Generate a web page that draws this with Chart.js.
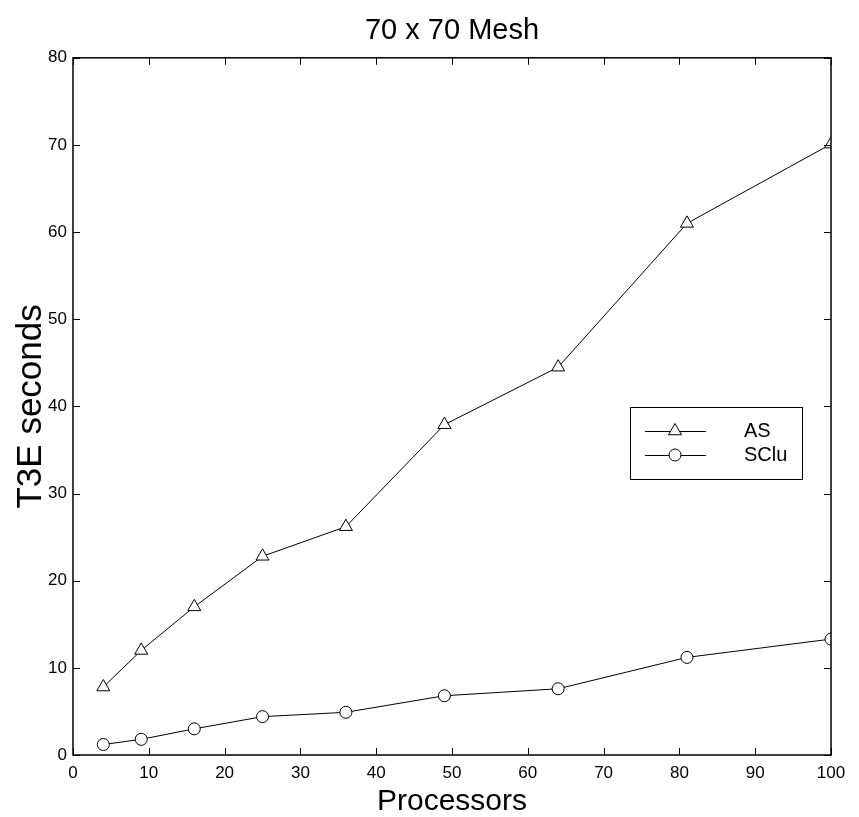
<!DOCTYPE html>
<html>
<head>
<meta charset="utf-8">
<script src="https://cdn.jsdelivr.net/npm/chart.js@4.4.1/dist/chart.umd.min.js"></script>
<style>
  html, body { margin: 0; padding: 0; background: #fff; }
  #wrap { width: 859px; height: 817px; }
</style>
</head>
<body>
<div id="wrap"><canvas id="meshChart" width="859" height="817"></canvas></div>
<script>
// data
const processors = [4, 9, 16, 25, 36, 49, 64, 81, 100];
const asTimes = [7.8, 12.0, 17.0, 22.8, 26.2, 37.9, 44.5, 61.0, 70.1];
const scluTimes = [1.2, 1.8, 3.0, 4.4, 4.9, 6.8, 7.6, 11.2, 13.3];
const xTicks = [0, 10, 20, 30, 40, 50, 60, 70, 80, 90, 100];
const yTicks = [0, 10, 20, 30, 40, 50, 60, 70, 80];

const FONT = "'Liberation Sans', Arial, Helvetica, sans-serif";

function toPoints(xs, ys) {
  return xs.map((x, i) => ({ x: x, y: ys[i] }));
}

// box around the plot + inward ticks on all four sides
const framePlugin = {
  id: "frame",
  afterDatasetsDraw(chart) {
    const { ctx, chartArea: a, scales } = chart;
    const len = 7;
    ctx.save();
    ctx.strokeStyle = "#000";
    ctx.lineWidth = 1;
    xTicks.forEach(v => {
      const px = Math.round(scales.x.getPixelForValue(v)) + 0.5;
      ctx.beginPath();
      ctx.moveTo(px, a.bottom); ctx.lineTo(px, a.bottom - len);
      ctx.moveTo(px, a.top); ctx.lineTo(px, a.top + len);
      ctx.stroke();
    });
    yTicks.forEach(v => {
      const py = Math.round(scales.y.getPixelForValue(v)) + 0.5;
      ctx.beginPath();
      ctx.moveTo(a.left, py); ctx.lineTo(a.left + len, py);
      ctx.moveTo(a.right, py); ctx.lineTo(a.right - len, py);
      ctx.stroke();
    });
    ctx.lineWidth = 1.5;
    ctx.strokeRect(a.left, a.top, a.right - a.left, a.bottom - a.top);
    ctx.restore();
  }
};

// legend box inside the plot, like the original
const boxLegend = {
  id: "boxLegend",
  afterDraw(chart) {
    const ctx = chart.ctx;
    const x0 = 630, y0 = 407, w = 172, h = 72;
    ctx.save();
    ctx.fillStyle = "#fff";
    ctx.fillRect(x0, y0, w, h);
    ctx.strokeStyle = "#000";
    ctx.lineWidth = 1;
    ctx.strokeRect(x0 + 0.5, y0 + 0.5, w, h);
    chart.data.datasets.forEach((ds, i) => {
      const yy = 431 + i * 24;
      ctx.strokeStyle = "#000";
      ctx.lineWidth = 1;
      ctx.beginPath();
      ctx.moveTo(645, yy + 0.5);
      ctx.lineTo(706, yy + 0.5);
      ctx.stroke();
      ctx.fillStyle = "#fff";
      Chart.helpers.drawPoint(ctx, {
        pointStyle: ds.pointStyle, radius: ds.pointRadius, rotation: 0, borderWidth: 1
      }, 675, yy);
      ctx.fillStyle = "#000";
      ctx.font = "20px " + FONT;
      ctx.textBaseline = "middle";
      ctx.textAlign = "left";
      ctx.fillText(ds.label, 744, yy);
    });
    ctx.restore();
  }
};

const ctx = document.getElementById("meshChart").getContext("2d");
new Chart(ctx, {
  type: "line",
  data: {
    datasets: [
      {
        label: "AS",
        data: toPoints(processors, asTimes),
        borderColor: "#000",
        borderWidth: 1,
        pointStyle: "triangle",
        pointRadius: 7.5,
        pointBorderColor: "#000",
        pointBackgroundColor: "#fff",
        pointBorderWidth: 1,
        tension: 0,
        clip: 0
      },
      {
        label: "SClu",
        data: toPoints(processors, scluTimes),
        borderColor: "#000",
        borderWidth: 1,
        pointStyle: "circle",
        pointRadius: 6,
        pointBorderColor: "#000",
        pointBackgroundColor: "#fff",
        pointBorderWidth: 1,
        tension: 0,
        clip: 0
      }
    ]
  },
  options: {
    responsive: false,
    animation: false,
    layout: { padding: { left: 0, right: 28, top: 0, bottom: 0 } },
    plugins: {
      legend: { display: false },
      tooltip: { enabled: false },
      title: {
        display: true,
        fullSize: false,
        text: "70 x 70 Mesh",
        color: "#000",
        font: { family: FONT, size: 29, weight: "normal", lineHeight: 1.2 },
        padding: { top: 14, bottom: 9 }
      }
    },
    scales: {
      x: {
        type: "linear",
        min: 0,
        max: 100,
        afterFit: s => { s.height = 62; },
        afterBuildTicks: s => { s.ticks = xTicks.map(v => ({ value: v })); },
        grid: { display: false, drawTicks: false },
        border: { display: false },
        ticks: {
          color: "#000",
          padding: 8,
          maxRotation: 0,
          font: { family: FONT, size: 17 }
        },
        title: {
          display: true,
          text: "Processors",
          color: "#000",
          font: { family: FONT, size: 30, lineHeight: 1 },
          padding: 0
        }
      },
      y: {
        min: 0,
        max: 80,
        afterFit: s => { s.width = 73; },
        afterBuildTicks: s => { s.ticks = yTicks.map(v => ({ value: v })); },
        grid: { display: false, drawTicks: false },
        border: { display: false },
        ticks: {
          color: "#000",
          padding: 6,
          font: { family: FONT, size: 17 }
        },
        title: {
          display: true,
          text: "T3E seconds",
          color: "#000",
          font: { family: FONT, size: 35, lineHeight: 1 },
          padding: { top: 14, bottom: 0 }
        }
      }
    }
  },
  plugins: [framePlugin, boxLegend]
});
</script>
</body>
</html>
